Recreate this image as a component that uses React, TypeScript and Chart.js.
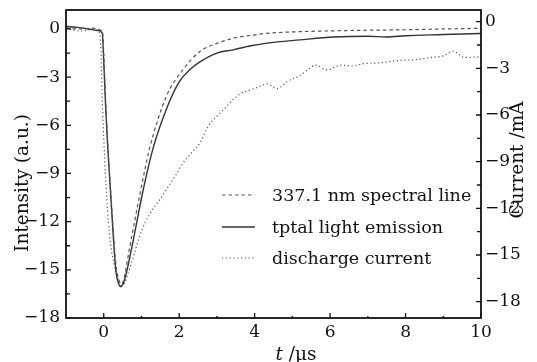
import React, { useEffect, useRef } from "react";
import { Chart, registerables } from "chart.js";

Chart.register(...registerables);

// ---- data ----
const tSpectral = [-1, -0.6, -0.3, -0.1, -0.03, 0.0, 0.05, 0.1, 0.21, 0.32, 0.4, 0.47, 0.54, 0.68, 0.95, 1.21, 1.66, 2.1, 2.55, 3.0, 3.43, 3.9, 4.33, 5.2, 6.0, 7.0, 8.0, 9.0, 10.0];
const spectralLine = [0.05, 0.0, 0.05, -0.05, -0.2, -1.5, -4.5, -6.8, -11.0, -14.6, -15.6, -15.9, -15.5, -13.7, -10.4, -7.5, -4.2, -2.54, -1.4, -0.9, -0.58, -0.4, -0.27, -0.17, -0.12, -0.08, -0.05, 0.0, 0.04];

const tTotal = [-1, -0.7, -0.4, -0.15, -0.04, 0.0, 0.05, 0.1, 0.21, 0.32, 0.4, 0.46, 0.52, 0.6, 0.77, 1.03, 1.3, 1.66, 2.0, 2.3, 2.55, 3.0, 3.43, 3.9, 4.33, 5.2, 6.1, 7.0, 7.5, 8.0, 9.0, 10.0];
const totalEmission = [0.15, 0.1, 0.0, -0.1, -0.25, -2.0, -4.8, -7.1, -11.3, -15.0, -15.9, -16.05, -15.85, -15.2, -13.3, -10.2, -7.5, -5.0, -3.3, -2.5, -2.05, -1.5, -1.3, -1.05, -0.88, -0.68, -0.5, -0.45, -0.5, -0.42, -0.35, -0.28];

const tCurrent = [-1, -0.6, -0.3, -0.12, -0.08, -0.03, 0.03, 0.1, 0.2, 0.28, 0.38, 0.46, 0.55, 0.63, 0.8, 0.95, 1.1, 1.3, 1.5, 1.66, 1.9, 2.1, 2.3, 2.55, 2.8, 2.99, 3.2, 3.43, 3.65, 3.88, 4.1, 4.33, 4.59, 4.9, 5.21, 5.4, 5.61, 5.93, 6.28, 6.6, 6.9, 7.3, 7.79, 8.2, 8.68, 9.0, 9.26, 9.56, 10];
const dischargeCurrent = [-0.45, -0.6, -0.5, -0.7, -1.5, -5.7, -9.0, -12.1, -14.6, -15.6, -16.6, -16.95, -16.8, -16.3, -15.0, -13.8, -12.9, -12.05, -11.4, -10.8, -9.9, -9.1, -8.5, -7.8, -6.6, -6.1, -5.6, -5.0, -4.6, -4.4, -4.2, -4.0, -4.3, -3.8, -3.45, -3.1, -2.8, -3.1, -2.8, -2.85, -2.7, -2.65, -2.5, -2.45, -2.3, -2.2, -1.9, -2.3, -2.25];

const seriesLabels = ["337.1 nm spectral line", "tptal light emission", "discharge current"];

const xTickValues = [0, 2, 4, 6, 8, 10];
const xMinorValues = [1, 3, 5, 7, 9];
const yTickValues = [0, -3, -6, -9, -12, -15, -18];
const yMinorValues = [-1.5, -4.5, -7.5, -10.5, -13.5, -16.5];

const xTitle = ["t", " /\u03bcs"];
const yTitle = "Intensity (a.u.)";
const y1Title = "Current /mA";

const FONT = "'DejaVu Serif', serif";

const zip = (xs: number[], ys: number[]) => xs.map((x, i) => ({ x, y: ys[i] }));

const decorPlugin = {
  id: "decor",
  afterDraw(chart: any) {
    const { ctx, chartArea, scales } = chart;
    const { left, right, top, bottom } = chartArea;
    ctx.save();
    // frame
    ctx.strokeStyle = "#111";
    ctx.lineWidth = 1.8;
    ctx.strokeRect(left, top, right - left, bottom - top);
    // ticks (inward)
    ctx.lineWidth = 1.3;
    ctx.beginPath();
    xTickValues.forEach((v) => {
      const px = scales.x.getPixelForValue(v);
      ctx.moveTo(px, bottom);
      ctx.lineTo(px, bottom - 5);
    });
    xMinorValues.forEach((v) => {
      const px = scales.x.getPixelForValue(v);
      ctx.moveTo(px, bottom);
      ctx.lineTo(px, bottom - 2);
    });
    yTickValues.forEach((v) => {
      const py = scales.y.getPixelForValue(v);
      ctx.moveTo(left, py);
      ctx.lineTo(left + 5, py);
      const py1 = scales.y1.getPixelForValue(v);
      ctx.moveTo(right, py1);
      ctx.lineTo(right - 5, py1);
    });
    yMinorValues.forEach((v) => {
      const py = scales.y.getPixelForValue(v);
      ctx.moveTo(left, py);
      ctx.lineTo(left + 4, py);
      const py1 = scales.y1.getPixelForValue(v);
      ctx.moveTo(right, py1);
      ctx.lineTo(right - 4, py1);
    });
    ctx.stroke();

    // legend
    const rowY = [195, 227, 258];
    const sx0 = 222;
    const sx1 = 255;
    chart.data.datasets.forEach((ds: any, i: number) => {
      ctx.beginPath();
      ctx.setLineDash(ds.borderDash || []);
      ctx.strokeStyle = ds.borderColor;
      ctx.lineWidth = ds.borderWidth;
      ctx.moveTo(sx0, rowY[i]);
      ctx.lineTo(sx1, rowY[i]);
      ctx.stroke();
      ctx.setLineDash([]);
      ctx.fillStyle = "#111";
      ctx.font = `17.5px ${FONT}`;
      ctx.textBaseline = "middle";
      ctx.textAlign = "left";
      ctx.fillText(ds.label, 272, rowY[i] + 1);
    });

    // axis titles
    ctx.fillStyle = "#111";
    ctx.font = `18.5px ${FONT}`;
    ctx.textAlign = "center";
    ctx.textBaseline = "middle";
    ctx.save();
    ctx.translate(23, 183);
    ctx.rotate(-Math.PI / 2);
    ctx.fillText(yTitle, 0, 0);
    ctx.restore();
    ctx.save();
    ctx.translate(518, 160);
    ctx.rotate(-Math.PI / 2);
    ctx.fillText(y1Title, 0, 0);
    ctx.restore();

    // x title
    ctx.textBaseline = "alphabetic";
    ctx.textAlign = "left";
    ctx.font = `italic 18.5px ${FONT}`;
    const w0 = ctx.measureText(xTitle[0]).width;
    ctx.font = `18.5px ${FONT}`;
    const w1 = ctx.measureText(xTitle[1]).width;
    const startX = 296 - (w0 + w1) / 2;
    ctx.font = `italic 18.5px ${FONT}`;
    ctx.fillText(xTitle[0], startX, 360);
    ctx.font = `18.5px ${FONT}`;
    ctx.fillText(xTitle[1], startX + w0, 360);
    ctx.restore();
  },
};

export default function App() {
  const ref = useRef<HTMLCanvasElement | null>(null);
  useEffect(() => {
    document.body.style.margin = "0";
    const canvas = ref.current;
    if (!canvas) return;
    const tickFont = { family: FONT, size: 17 };
    const noGrid = { display: false, drawTicks: false, tickLength: 0 };
    const chart = new Chart(canvas, {
      type: "line",
      data: {
        datasets: [
          {
            label: seriesLabels[0],
            data: zip(tSpectral, spectralLine),
            borderColor: "#555",
            borderWidth: 1.2,
            borderDash: [3.5, 3],
            pointRadius: 0,
            cubicInterpolationMode: "monotone",
            yAxisID: "y",
          },
          {
            label: seriesLabels[1],
            data: zip(tTotal, totalEmission),
            borderColor: "#333",
            borderWidth: 1.4,
            pointRadius: 0,
            cubicInterpolationMode: "monotone",
            yAxisID: "y",
          },
          {
            label: seriesLabels[2],
            data: zip(tCurrent, dischargeCurrent),
            borderColor: "#555",
            borderWidth: 1.2,
            borderDash: [1.2, 2.6],
            pointRadius: 0,
            cubicInterpolationMode: "monotone",
            yAxisID: "y1",
          },
        ],
      },
      options: {
        responsive: false,
        animation: false,
        layout: { padding: { top: 10, left: 0, right: 0, bottom: 0 } },
        plugins: { legend: { display: false }, tooltip: { enabled: false } },
        scales: {
          x: {
            type: "linear",
            position: "bottom",
            min: -1,
            max: 10,
            grid: noGrid,
            border: { display: false },
            afterBuildTicks: (s: any) => {
              s.ticks = xTickValues.map((v) => ({ value: v }));
            },
            afterFit: (s: any) => {
              s.height = 44;
              s.paddingLeft = 0;
              s.paddingRight = 0;
            },
            ticks: { font: tickFont, color: "#111", padding: 4, maxRotation: 0, autoSkip: false },
          },
          y: {
            type: "linear",
            position: "left",
            min: -18,
            max: 1.18,
            grid: noGrid,
            border: { display: false },
            afterBuildTicks: (s: any) => {
              s.ticks = yTickValues.map((v) => ({ value: v }));
            },
            afterFit: (s: any) => {
              s.width = 66;
              s.paddingTop = 0;
              s.paddingBottom = 0;
            },
            ticks: {
              font: tickFont,
              color: "#111",
              padding: 6,
              autoSkip: false,
              callback: (v: any) => String(v).replace("-", "\u2212"),
            },
          },
          y1: {
            type: "linear",
            position: "right",
            min: -19.05,
            max: 0.75,
            grid: noGrid,
            border: { display: false },
            afterBuildTicks: (s: any) => {
              s.ticks = yTickValues.map((v) => ({ value: v }));
            },
            afterFit: (s: any) => {
              s.width = 56;
              s.paddingTop = 0;
              s.paddingBottom = 0;
            },
            ticks: {
              font: tickFont,
              color: "#111",
              padding: 4,
              autoSkip: false,
              callback: (v: any) => String(v).replace("-", "\u2212"),
            },
          },
        },
      },
      plugins: [decorPlugin],
    } as any);
    return () => chart.destroy();
  }, []);
  return (
    <div style={{ width: 537, height: 362 }}>
      <canvas ref={ref} width={537} height={362} />
    </div>
  );
}
